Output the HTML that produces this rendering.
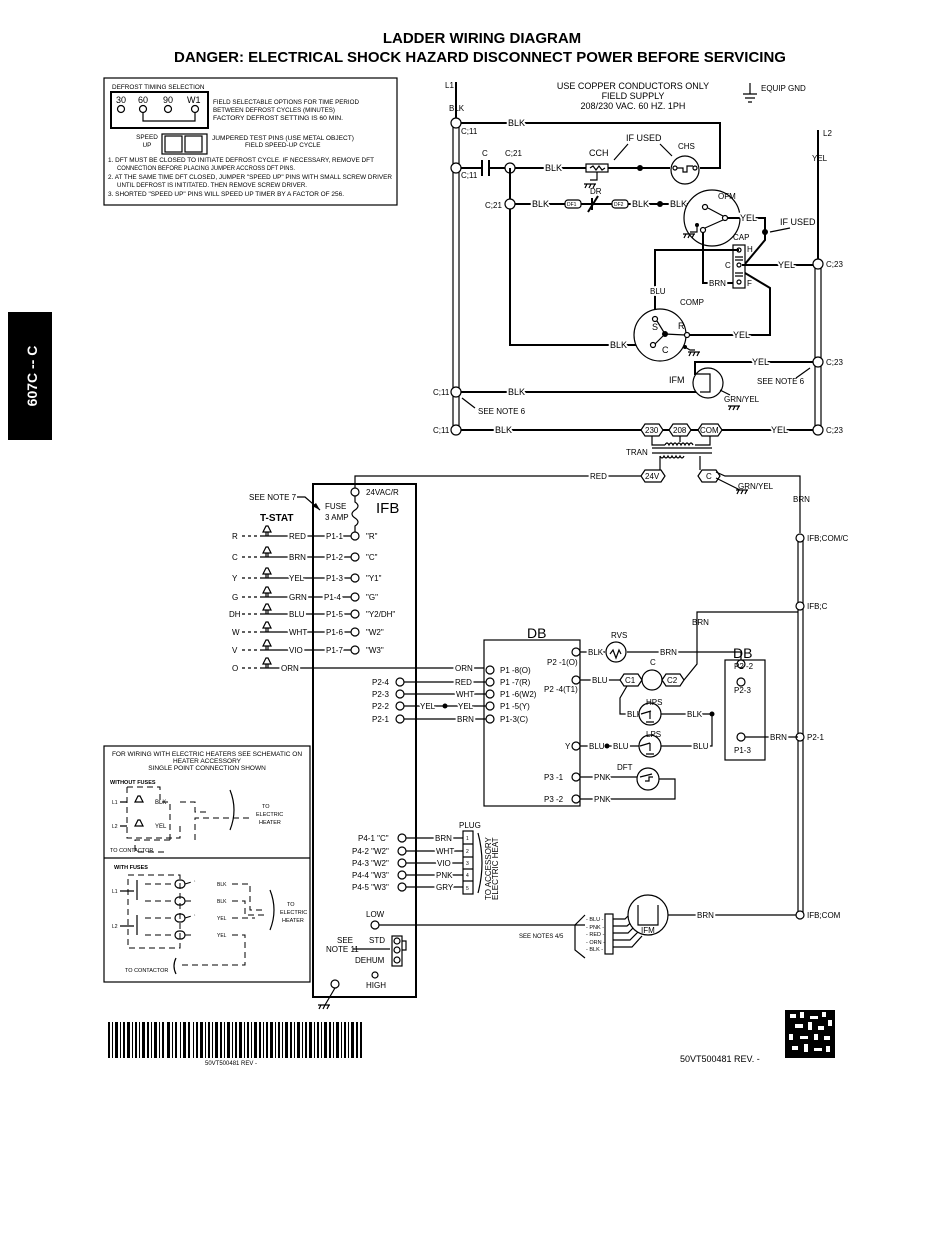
<!DOCTYPE html>
<html><head><meta charset="utf-8"><style>
html,body{margin:0;padding:0;background:#fff}
svg{display:block}
text{font-family:"Liberation Sans",sans-serif;fill:#000}
.s{font-size:8px}
.m{font-size:9px}
.n{font-size:6.4px}
.w{paint-order:stroke;stroke:#fff;stroke-width:4px;stroke-linejoin:round}
.k{stroke:#000;fill:none;stroke-width:1.2}
.b{stroke:#000;fill:none;stroke-width:2}
.c{stroke:#000;fill:#fff;stroke-width:1.2}
.d{stroke:#000;fill:none;stroke-width:1;stroke-dasharray:6,4}
</style></head><body>
<svg width="950" height="1237" viewBox="0 0 950 1237" xmlns="http://www.w3.org/2000/svg">
<text x="482" y="43" text-anchor="middle" style="font-size:15px;font-weight:bold">LADDER WIRING DIAGRAM</text>
<text x="480" y="62" text-anchor="middle" style="font-size:15px;font-weight:bold">DANGER:  ELECTRICAL SHOCK HAZARD DISCONNECT POWER BEFORE SERVICING</text>
<rect x="8" y="312" width="44" height="128" fill="#000"/>
<text transform="translate(37,376) rotate(-90)" text-anchor="middle" style="font-size:14px;font-weight:bold;fill:#fff">607C -- C</text>

<rect x="104" y="78" width="293" height="127" class="k"/>
<text x="112" y="89" class="n">DEFROST TIMING SELECTION</text>
<rect x="111" y="92" width="97" height="36" fill="none" stroke="#000" stroke-width="2"/>
<text x="116" y="103" class="m">30</text><text x="138" y="103" class="m">60</text><text x="163" y="103" class="m">90</text><text x="187" y="103" class="m">W1</text>
<circle cx="121" cy="109" r="3.5" class="c"/><circle cx="143" cy="109" r="3.5" class="c"/><circle cx="168" cy="109" r="3.5" class="c"/><circle cx="195" cy="109" r="3.5" class="c"/>
<path d="M143 113 V121 H195 V113" class="k"/>
<text x="213" y="104" class="n" textLength="146" lengthAdjust="spacingAndGlyphs">FIELD SELECTABLE OPTIONS FOR TIME PERIOD</text>
<text x="213" y="112" class="n" textLength="122" lengthAdjust="spacingAndGlyphs">BETWEEN DEFROST CYCLES (MINUTES)</text>
<text x="213" y="120" class="n" textLength="130" lengthAdjust="spacingAndGlyphs">FACTORY DEFROST SETTING IS 60 MIN.</text>
<text x="147" y="139" class="n" text-anchor="middle">SPEED</text><text x="147" y="147" class="n" text-anchor="middle">UP</text>
<rect x="162" y="134" width="45" height="20" class="k"/><rect x="165" y="136" width="17" height="16" class="k"/><rect x="185" y="136" width="17" height="16" class="k"/>
<text x="212" y="140" class="n" textLength="142" lengthAdjust="spacingAndGlyphs">JUMPERED TEST PINS (USE METAL OBJECT)</text>
<text x="245" y="147" class="n">FIELD SPEED-UP CYCLE</text>
<text x="108" y="162" class="n" textLength="266" lengthAdjust="spacingAndGlyphs">1.  DFT MUST BE CLOSED TO INITIATE DEFROST CYCLE. IF NECESSARY, REMOVE DFT</text>
<text x="117" y="170" class="n" textLength="178" lengthAdjust="spacingAndGlyphs">CONNECTION BEFORE PLACING JUMPER ACCROSS DFT PINS.</text>
<text x="108" y="179" class="n" textLength="284" lengthAdjust="spacingAndGlyphs">2.  AT THE SAME TIME DFT CLOSED, JUMPER "SPEED UP" PINS WITH SMALL SCREW DRIVER</text>
<text x="117" y="187" class="n" textLength="190" lengthAdjust="spacingAndGlyphs">UNTIL DEFROST IS  INITITATED.  THEN REMOVE SCREW DRIVER.</text>
<text x="108" y="196" class="n" textLength="236" lengthAdjust="spacingAndGlyphs">3.  SHORTED "SPEED UP" PINS WILL SPEED UP TIMER BY A FACTOR OF 256.</text>

<text x="445" y="88" class="s">L1</text>
<text x="449" y="111" class="s">BLK</text>
<text x="633" y="89" class="m" text-anchor="middle">USE COPPER CONDUCTORS ONLY</text>
<text x="633" y="99" class="m" text-anchor="middle">FIELD SUPPLY</text>
<text x="633" y="109" class="m" text-anchor="middle">208/230 VAC. 60 HZ. 1PH</text>
<path d="M750 83 V94 M743 94 H757 M745 98 H755 M748 102 H752" class="k"/>
<text x="761" y="91" class="s">EQUIP GND</text>
<text x="823" y="136" class="s">L2</text>
<text x="812" y="161" class="s">YEL</text>

<path d="M456 82 V123" class="b"/>
<path d="M453 123 V430 M459 123 V430" class="k"/>
<path d="M818 130 V264" class="b"/>
<path d="M815 264 V430 M821 264 V430" class="k"/>

<path d="M456 123 H720 V168 H700" class="b"/>
<text x="508" y="126" class="m w">BLK</text>
<circle cx="456" cy="123" r="5" class="c"/><text x="461" y="134" class="s">C;11</text>
<path d="M456 168 H482 M489 168 H510 H588 M606 168 H670" class="b"/>
<path d="M482 160 V176 M489 160 V176" class="b"/>
<text x="482" y="156" class="s">C</text><text x="505" y="156" class="s">C;21</text>
<circle cx="456" cy="168" r="5" class="c"/><text x="461" y="178" class="s">C;11</text>
<circle cx="510" cy="168" r="5" class="c"/>
<text x="545" y="171" class="m w">BLK</text>
<rect x="586" y="164" width="22" height="8" class="c"/><path d="M590 168 l3-2 3 4 3-4 3 4 3-2" class="k"/>
<text x="589" y="156" class="m">CCH</text>
<path d="M597 172 V180 H590 M584 184 H596 M587 184 l-2 4 M591 184 l-2 4 M595 184 l-2 4" class="k"/>
<circle cx="640" cy="168" r="3" fill="#000"/>
<text x="626" y="141" class="m">IF USED</text>
<path d="M628 144 L614 160 M660 144 L672 156" class="k"/>
<circle cx="685" cy="170" r="14" class="c"/><circle cx="675" cy="168" r="2" class="c"/><circle cx="695" cy="168" r="2" class="c"/>
<path d="M677 168 H683 V172 H687 V166 H693" class="k"/>
<text x="678" y="149" class="s">CHS</text>
<path d="M510 168 V345 H655" class="b"/>
<circle cx="510" cy="204" r="5" class="c"/><text x="485" y="208" class="s">C;21</text>
<path d="M515 204 H565 M576 204 H614 M626 204 H695" class="b"/>
<text x="532" y="207" class="m w">BLK</text>
<rect x="565" y="200" width="16" height="8" rx="3" class="c"/><text x="567" y="206" style="font-size:5px">DF1</text>
<path d="M588 212 L598 196 M592 198 V210" class="b"/>
<text x="590" y="194" class="s">DR</text>
<rect x="612" y="200" width="16" height="8" rx="3" class="c"/><text x="614" y="206" style="font-size:5px">DF2</text>
<text x="632" y="207" class="m w">BLK</text>
<circle cx="660" cy="204" r="3" fill="#000"/>
<text x="670" y="207" class="m w">BLK</text>
<circle cx="712" cy="218" r="28" class="c"/>
<text x="718" y="199" class="s">OFM</text>
<circle cx="705" cy="207" r="2.5" class="c"/><circle cx="725" cy="218" r="2.5" class="c"/><circle cx="703" cy="230" r="2.5" class="c"/>
<path d="M708 208 l15 8 M705 228 l18 -8" class="k"/>
<circle cx="697" cy="225" r="2" fill="#000"/><path d="M697 225 V232 H690 M683 234 H695 M686 234 l-2 4 M690 234 l-2 4 M694 234 l-2 4" class="k"/>
<path d="M728 218 H765 V240 L740 270 L770 288 V335 H680" class="b"/>
<text x="740" y="221" class="m w">YEL</text>
<circle cx="765" cy="232" r="3" fill="#000"/>
<text x="780" y="225" class="m">IF USED</text><path d="M790 228 L770 232" class="k"/>
<path d="M703 233 V283 H733" class="b"/>
<text x="709" y="286" class="s w">BRN</text>
<rect x="733" y="245" width="12" height="43" class="c"/>
<text x="733" y="240" class="s">CAP</text>
<circle cx="739" cy="250" r="2" class="c"/><circle cx="739" cy="265" r="2" class="c"/><circle cx="739" cy="282" r="2" class="c"/>
<text x="747" y="252" class="s">H</text><text x="725" y="268" class="s">C</text><text x="747" y="286" class="s">F</text>
<path d="M735 257 H743 M735 260 H743 M735 273 H743 M735 276 H743" class="k"/>
<path d="M739 250 H655 V345" class="b"/>
<path d="M742 265 H815" class="b"/>
<text x="778" y="268" class="m w">YEL</text>
<text x="650" y="294" class="s w">BLU</text>
<circle cx="818" cy="264" r="5" class="c"/><text x="826" y="267" class="s">C;23</text>
<circle cx="660" cy="335" r="26" class="c"/>
<text x="680" y="305" class="s">COMP</text>
<text x="652" y="330" class="m">S</text><text x="678" y="329" class="m">R</text><text x="662" y="353" class="m">C</text>
<circle cx="665" cy="334" r="3" fill="#000"/>
<circle cx="687" cy="335" r="2.5" class="c"/><circle cx="655" cy="319" r="2.5" class="c"/><circle cx="653" cy="345" r="2.5" class="c"/>
<path d="M657 321 l8 13 l20 1 M665 334 l-10 10" class="k"/>
<circle cx="685" cy="347" r="2" fill="#000"/><path d="M685 347 l5 3 H695 M688 352 H700 M691 352 l-2 4 M695 352 l-2 4 M699 352 l-2 4" class="k"/>
<text x="610" y="348" class="m w">BLK</text>
<text x="733" y="338" class="m w">YEL</text>
<path d="M695 375 V362 H815" class="b"/>
<text x="752" y="365" class="m w">YEL</text>
<circle cx="818" cy="362" r="5" class="c"/><text x="826" y="365" class="s">C;23</text>
<text x="757" y="384" class="s">SEE NOTE 6</text><path d="M796 378 L810 368" class="k"/>
<path d="M456 392 H700" class="b"/>
<text x="508" y="395" class="m w">BLK</text>
<circle cx="708" cy="383" r="15" class="c"/>
<path d="M695 374 H710 V392 H700" class="k"/>
<text x="669" y="383" class="m">IFM</text>
<path d="M720 390 L730 395" class="k"/><text x="724" y="402" class="s">GRN/YEL</text>
<path d="M728 406 H740 M731 406 l-2 4 M735 406 l-2 4 M739 406 l-2 4" class="k"/>
<circle cx="456" cy="392" r="5" class="c"/><text x="433" y="395" class="s">C;11</text>
<text x="478" y="414" class="s">SEE NOTE 6</text><path d="M475 408 L462 398" class="k"/>
<path d="M456 430 H815" class="b"/>
<text x="495" y="433" class="m w">BLK</text>
<text x="771" y="433" class="m w">YEL</text>
<circle cx="456" cy="430" r="5" class="c"/><text x="433" y="433" class="s">C;11</text>
<circle cx="818" cy="430" r="5" class="c"/><text x="826" y="433" class="s">C;23</text>
<g class="c"><polygon points="641,430 645,424 659,424 663,430 659,436 645,436"/><polygon points="669,430 673,424 687,424 691,430 687,436 673,436"/><polygon points="698,430 702,424 718,424 722,430 718,436 702,436"/></g>
<text x="645" y="433" class="s">230</text><text x="673" y="433" class="s">208</text><text x="700" y="433" class="s">COM</text>
<path d="M652 436 V445 H665 M680 436 V442 M710 436 V445 H695" class="k"/>
<path d="M652 448 H712 M652 453 H712" class="k"/>
<path d="M665 445 q2-4 4 0 q2-4 4 0 q2-4 4 0 q2-4 4 0 q2-4 4 0 q2-4 4 0 q2-4 4 0" class="k"/>
<path d="M660 456 q2 4 4 0 q2 4 4 0 q2 4 4 0 q2 4 4 0 q2 4 4 0 q2 4 4 0" class="k"/>
<text x="626" y="455" class="s">TRAN</text>
<path d="M660 456 V470 M700 456 V470" class="k"/>
<path d="M355 488 V476 H641" class="k"/>
<text x="590" y="479" class="s w">RED</text>
<polygon points="641,476 645,470 661,470 665,476 661,482 645,482" class="c"/><text x="645" y="479" class="s">24V</text>
<polygon points="698,476 702,470 716,470 720,476 716,482 702,482" class="c"/><text x="706" y="479" class="s">C</text>
<path d="M716 478 L740 490 M736 490 H748 M739 490 l-2 4 M743 490 l-2 4 M747 490 l-2 4" class="k"/>
<text x="738" y="489" class="s">GRN/YEL</text>
<path d="M716 472 L725 476 H800 V533" class="k"/>
<text x="793" y="502" class="s">BRN</text>
<path d="M798 538 V915 M803 538 V915" class="k"/>
<circle cx="800" cy="538" r="4" class="c"/><text x="807" y="541" class="s">IFB;COM/C</text>
<circle cx="800" cy="606" r="4" class="c"/><text x="807" y="609" class="s">IFB;C</text>
<circle cx="800" cy="737" r="4" class="c"/><text x="807" y="740" class="s">P2-1</text>
<circle cx="800" cy="915" r="4" class="c"/><text x="807" y="918" class="s">IFB;COM</text>

<rect x="313" y="484" width="103" height="513" fill="none" stroke="#000" stroke-width="2"/>
<circle cx="355" cy="492" r="4" class="c"/><text x="366" y="495" class="s">24VAC/R</text>
<text x="376" y="513" style="font-size:15px">IFB</text>
<text x="325" y="509" class="s">FUSE</text><text x="325" y="520" class="s">3 AMP</text>
<path d="M355 496 V502 q6 4 0 8 q-6 4 0 8 q6 4 0 8 V532" class="k"/>
<text x="249" y="500" class="s">SEE NOTE 7</text><path d="M297 497 H305 L320 510" class="k"/>
<polygon points="320,510 312,506 316,503" fill="#000"/>
<text x="260" y="521" style="font-size:10px;font-weight:bold">T-STAT</text>
<g class="s">
<text x="232" y="539">R</text><text x="232" y="560">C</text><text x="232" y="581">Y</text><text x="232" y="600">G</text><text x="229" y="617">DH</text><text x="232" y="635">W</text><text x="232" y="653">V</text><text x="232" y="671">O</text>
</g>
<path d="M242 536 H262 M242 557 H262 M242 578 H262 M242 597 H262 M242 614 H262 M242 632 H262 M242 650 H262 M242 668 H262" class="k" stroke-dasharray="3,3"/>
<g class="k">
<path d="M262 536 H290 M262 557 H290 M262 578 H290 M262 597 H290 M262 614 H290 M262 632 H290 M262 650 H290 M262 668 H484"/>
<path d="M263 532 l3-6 h2 l3 6 z M266 532 v4 M268 532 v4"/>
<path d="M263 553 l3-6 h2 l3 6 z M266 553 v4 M268 553 v4"/>
<path d="M263 574 l3-6 h2 l3 6 z M266 574 v4 M268 574 v4"/>
<path d="M263 593 l3-6 h2 l3 6 z M266 593 v4 M268 593 v4"/>
<path d="M263 610 l3-6 h2 l3 6 z M266 610 v4 M268 610 v4"/>
<path d="M263 628 l3-6 h2 l3 6 z M266 628 v4 M268 628 v4"/>
<path d="M263 646 l3-6 h2 l3 6 z M266 646 v4 M268 646 v4"/>
<path d="M263 664 l3-6 h2 l3 6 z M266 664 v4 M268 664 v4"/>
<path d="M290 536 H351 M290 557 H351 M290 578 H351 M290 597 H351 M290 614 H351 M290 632 H351 M290 650 H351"/>
</g>
<g class="s w">
<text x="289" y="539">RED</text><text x="289" y="560">BRN</text><text x="289" y="581">YEL</text><text x="289" y="600">GRN</text><text x="289" y="617">BLU</text><text x="289" y="635">WHT</text><text x="289" y="653">VIO</text><text x="281" y="671">ORN</text>
<text x="326" y="539">P1-1</text><text x="326" y="560">P1-2</text><text x="326" y="581">P1-3</text><text x="324" y="600">P1-4</text><text x="326" y="617">P1-5</text><text x="326" y="635">P1-6</text><text x="326" y="653">P1-7</text>
</g>
<g class="c"><circle cx="355" cy="536" r="4"/><circle cx="355" cy="557" r="4"/><circle cx="355" cy="578" r="4"/><circle cx="355" cy="597" r="4"/><circle cx="355" cy="614" r="4"/><circle cx="355" cy="632" r="4"/><circle cx="355" cy="650" r="4"/></g>
<g class="s"><text x="366" y="539">"R"</text><text x="366" y="560">"C"</text><text x="366" y="581">"Y1"</text><text x="366" y="600">"G"</text><text x="366" y="617">"Y2/DH"</text><text x="366" y="635">"W2"</text><text x="366" y="653">"W3"</text></g>
<g class="k"><path d="M404 682 H486 M404 694 H486 M404 706 H486 M404 719 H486"/></g>
<g class="s"><text x="372" y="685">P2-4</text><text x="372" y="697">P2-3</text><text x="372" y="709">P2-2</text><text x="372" y="722">P2-1</text></g>
<g class="c"><circle cx="400" cy="682" r="4"/><circle cx="400" cy="694" r="4"/><circle cx="400" cy="706" r="4"/><circle cx="400" cy="719" r="4"/></g>
<g class="s w"><text x="455" y="671">ORN</text><text x="455" y="685">RED</text><text x="456" y="697">WHT</text><text x="420" y="709">YEL</text><text x="458" y="709">YEL</text><text x="457" y="722">BRN</text></g>
<circle cx="445" cy="706" r="2.5" fill="#000"/>
<rect x="484" y="640" width="96" height="166" class="k"/>
<text x="527" y="638" style="font-size:14px">DB</text>
<g class="c"><circle cx="490" cy="670" r="4"/><circle cx="490" cy="682" r="4"/><circle cx="490" cy="694" r="4"/><circle cx="490" cy="706" r="4"/><circle cx="490" cy="719" r="4"/></g>
<g class="s"><text x="500" y="673">P1 -8(O)</text><text x="500" y="685">P1 -7(R)</text><text x="500" y="697">P1 -6(W2)</text><text x="500" y="709">P1 -5(Y)</text><text x="500" y="722">P1-3(C)</text></g>
<g class="c"><circle cx="576" cy="652" r="4"/><circle cx="576" cy="680" r="4"/><circle cx="576" cy="746" r="4"/><circle cx="576" cy="777" r="4"/><circle cx="576" cy="799" r="4"/></g>
<g class="s"><text x="547" y="665">P2 -1(O)</text><text x="544" y="692">P2 -4(T1)</text><text x="565" y="749">Y</text><text x="544" y="780">P3 -1</text><text x="544" y="802">P3 -2</text></g>
<path d="M580 652 H605 M627 652 H735 M580 680 H620 M580 746 H640 M580 777 H640 M580 799 H675 V779 H656" class="k"/>
<g class="s w"><text x="588" y="655">BLK</text><text x="660" y="655">BRN</text><text x="592" y="683">BLU</text><text x="589" y="749">BLU</text><text x="613" y="749">BLU</text><text x="594" y="780">PNK</text><text x="594" y="802">PNK</text></g>
<circle cx="616" cy="652" r="10" class="c"/><path d="M610 654 l3-4 3 8 3-8 2 4" class="k"/>
<text x="611" y="638" class="s">RVS</text>
<polygon points="620,680 624,674 638,674 642,680 638,686 624,686" class="c"/><text x="625" y="683" class="s">C1</text>
<circle cx="652" cy="680" r="10" class="c"/><text x="650" y="665" class="s">C</text>
<polygon points="662,680 666,674 680,674 684,680 680,686 666,686" class="c"/><text x="667" y="683" class="s">C2</text>
<path d="M684 680 L697 664 V612 H798" class="k"/>
<text x="692" y="625" class="s">BRN</text>
<path d="M627 686 L620 698 V714 H640" class="k" stroke="#555"/>
<text x="627" y="717" class="s w">BLK</text>
<circle cx="650" cy="714" r="11" class="c"/><text x="646" y="705" class="s">HPS</text>
<path d="M641 714 l10-3 M650 711 v8 M646 722 h8 M661 714 H712" class="k"/>
<text x="687" y="717" class="s w">BLK</text>
<circle cx="712" cy="714" r="2.5" fill="#000"/><path d="M712 714 V746 H661" class="k"/>
<circle cx="650" cy="746" r="11" class="c"/><text x="646" y="737" class="s">LPS</text>
<path d="M640 746 l10-3 M650 743 v8 M646 754 h8" class="k"/>
<text x="693" y="749" class="s w">BLU</text>
<circle cx="607" cy="746" r="2.5" fill="#000"/>
<circle cx="648" cy="779" r="11" class="c"/><text x="617" y="770" class="s">DFT</text>
<path d="M640 777 l12-3 M645 781 h4 v-4 h4" class="k"/>
<rect x="725" y="660" width="40" height="100" class="k"/>
<text x="733" y="658" style="font-size:14px">DB</text>
<g class="c"><circle cx="741" cy="664" r="4"/><circle cx="741" cy="682" r="4"/><circle cx="741" cy="737" r="4"/></g>
<path d="M735 652 H741 V660" class="k"/>
<g class="s"><text x="734" y="669">P2 -2</text><text x="734" y="693">P2-3</text><text x="734" y="753">P1-3</text></g>
<path d="M745 737 H798" class="k"/><text x="770" y="740" class="s w">BRN</text>

<g class="k"><path d="M406 838 H463 M406 851 H463 M406 863 H463 M406 875 H463 M406 887 H463"/></g>
<g class="s"><text x="358" y="841">P4-1 "C"</text><text x="352" y="854">P4-2 "W2"</text><text x="352" y="866">P4-3 "W2"</text><text x="352" y="878">P4-4 "W3"</text><text x="352" y="890">P4-5 "W3"</text></g>
<g class="c"><circle cx="402" cy="838" r="4"/><circle cx="402" cy="851" r="4"/><circle cx="402" cy="863" r="4"/><circle cx="402" cy="875" r="4"/><circle cx="402" cy="887" r="4"/></g>
<g class="s w"><text x="435" y="841">BRN</text><text x="436" y="854">WHT</text><text x="437" y="866">VIO</text><text x="436" y="878">PNK</text><text x="436" y="890">GRY</text></g>
<rect x="463" y="831" width="10" height="63" class="k"/>
<path d="M463 844 h10 M463 857 h10 M463 869 h10 M463 881 h10" class="k"/>
<g style="font-size:5px"><text x="466" y="840">1</text><text x="466" y="853">2</text><text x="466" y="865">3</text><text x="466" y="877">4</text><text x="466" y="890">5</text></g>
<text x="459" y="828" class="s">PLUG</text>
<path d="M478 833 q8 30 0 60" class="k"/>
<text transform="translate(491,900) rotate(-90)" class="s">TO ACCESSORY</text>
<text transform="translate(498,900) rotate(-90)" class="s">ELECTRIC HEAT</text>
<text x="366" y="917" class="s">LOW</text>
<circle cx="375" cy="925" r="4" class="c"/>
<path d="M379 925 H585" class="k"/>
<text x="337" y="943" class="s">SEE</text><text x="326" y="952" class="s">NOTE 11</text>
<path d="M353 949 H390" class="k"/>
<text x="369" y="943" class="s">STD</text><text x="355" y="963" class="s">DEHUM</text>
<rect x="392" y="936" width="10" height="30" class="k"/>
<circle cx="397" cy="941" r="3" class="c"/><circle cx="397" cy="950" r="3" class="c"/><circle cx="397" cy="960" r="3" class="c"/>
<path d="M402 941 H406 V950 H402" class="k"/>
<circle cx="375" cy="975" r="3" class="c"/><text x="366" y="988" class="s">HIGH</text>
<circle cx="335" cy="984" r="4" class="c"/>
<path d="M335 988 L325 1005 M318 1005 H330 M321 1005 l-2 4 M325 1005 l-2 4 M329 1005 l-2 4" class="k"/>
<path d="M585 915 L575 925 V950 L585 958" class="k"/>
<text x="519" y="938" style="font-size:6px">SEE NOTES 4/5</text>
<g style="font-size:5.5px" class="w"><text x="586" y="921">- BLU -</text><text x="586" y="929">- PNK -</text><text x="586" y="936">- RED -</text><text x="586" y="944">- ORN -</text><text x="586" y="951">- BLK -</text></g>
<rect x="605" y="914" width="8" height="40" class="k"/>
<path d="M613 919 H625 L632 912 M613 926 H627 L634 920 M613 933 H628 L636 925 M613 940 H630 L638 932 M613 947 H632 L642 936" class="k"/>
<circle cx="648" cy="915" r="20" class="c"/>
<path d="M638 905 V925 H658 V905" class="k"/>
<text x="641" y="933" class="s">IFM</text>
<path d="M668 915 H796" class="k"/>
<text x="697" y="918" class="s w">BRN</text>

<rect x="104" y="746" width="206" height="236" class="k"/>
<path d="M104 858 H310" class="k"/>
<text x="207" y="756" style="font-size:6.5px" text-anchor="middle">FOR WIRING WITH ELECTRIC HEATERS SEE SCHEMATIC ON</text>
<text x="207" y="763" style="font-size:6.5px" text-anchor="middle">HEATER ACCESSORY</text>
<text x="207" y="770" style="font-size:6.5px" text-anchor="middle">SINGLE POINT CONNECTION SHOWN</text>
<text x="110" y="784" style="font-size:5.5px;font-weight:bold">WITHOUT FUSES</text>
<text x="112" y="804" style="font-size:5px">L1</text><text x="112" y="828" style="font-size:5px">L2</text>
<text x="155" y="804" style="font-size:6px">BLK</text><text x="155" y="828" style="font-size:6px">YEL</text>
<path d="M120 802 H127 M120 826 H127 M135 802 l3-6 h2 l3 6 z M135 826 l3-6 h2 l3 6 z" class="k"/>
<path d="M127 787 H160 V802 H170 V840 M127 787 V838 H180 V826 M180 802 H195 V812 H210 M170 840 H135 V852 H165 M195 840 V818 H250" class="d"/>
<path d="M230 790 q8 20 0 40" class="k"/>
<text x="262" y="808" style="font-size:5.5px">TO</text><text x="256" y="816" style="font-size:5.5px">ELECTRIC</text><text x="259" y="824" style="font-size:5.5px">HEATER</text>
<text x="110" y="852" style="font-size:5.5px">TO CONTACTOR</text>
<text x="114" y="869" style="font-size:5.5px;font-weight:bold">WITH FUSES</text>
<text x="112" y="893" style="font-size:5px">L1</text><text x="112" y="928" style="font-size:5px">L2</text>
<path d="M128 875 H180 V948 H128 Z" class="d"/>
<path d="M120 891 H134 M120 926 H134 M137 880 v20 M137 915 v20" class="k"/>
<g class="k"><rect x="175" y="880" width="10" height="8" rx="4"/><rect x="175" y="897" width="10" height="8" rx="4"/><rect x="175" y="914" width="10" height="8" rx="4"/><rect x="175" y="931" width="10" height="8" rx="4"/></g>
<path d="M145 884 H175 M145 901 H175 M145 918 H175 M145 935 H175 M185 884 l10-3 M185 901 H195 M185 918 l10-3 M185 935 H195" class="d"/>
<g style="font-size:5px"><text x="217" y="886">BLK</text><text x="217" y="903">BLK</text><text x="217" y="920">YEL</text><text x="217" y="937">YEL</text></g>
<path d="M232 884 H250 V910 H265 M232 901 H245 V915 H265 M232 918 H255 M232 935 H245 V965 H178" class="d"/>
<path d="M270 890 q8 20 0 40" class="k"/>
<text x="287" y="906" style="font-size:5.5px">TO</text><text x="280" y="914" style="font-size:5.5px">ELECTRIC</text><text x="282" y="922" style="font-size:5.5px">HEATER</text>
<text x="125" y="972" style="font-size:5.5px">TO CONTACTOR</text>
<path d="M176 958 q-4 8 0 16" class="k"/>

<g fill="#000">
<rect x="108" y="1022" width="2" height="36"/><rect x="112" y="1022" width="1" height="36"/><rect x="115" y="1022" width="3" height="36"/><rect x="120" y="1022" width="1" height="36"/><rect x="123" y="1022" width="2" height="36"/><rect x="127" y="1022" width="3" height="36"/><rect x="132" y="1022" width="1" height="36"/><rect x="135" y="1022" width="2" height="36"/><rect x="139" y="1022" width="1" height="36"/><rect x="142" y="1022" width="3" height="36"/><rect x="147" y="1022" width="2" height="36"/><rect x="151" y="1022" width="1" height="36"/><rect x="154" y="1022" width="3" height="36"/><rect x="159" y="1022" width="1" height="36"/><rect x="162" y="1022" width="2" height="36"/><rect x="167" y="1022" width="3" height="36"/><rect x="172" y="1022" width="1" height="36"/><rect x="175" y="1022" width="2" height="36"/><rect x="180" y="1022" width="1" height="36"/><rect x="183" y="1022" width="3" height="36"/><rect x="188" y="1022" width="2" height="36"/><rect x="193" y="1022" width="1" height="36"/><rect x="196" y="1022" width="2" height="36"/><rect x="200" y="1022" width="3" height="36"/><rect x="205" y="1022" width="1" height="36"/><rect x="208" y="1022" width="2" height="36"/><rect x="212" y="1022" width="1" height="36"/><rect x="215" y="1022" width="3" height="36"/><rect x="220" y="1022" width="2" height="36"/><rect x="224" y="1022" width="1" height="36"/><rect x="227" y="1022" width="3" height="36"/><rect x="232" y="1022" width="1" height="36"/><rect x="235" y="1022" width="2" height="36"/><rect x="239" y="1022" width="3" height="36"/><rect x="244" y="1022" width="1" height="36"/><rect x="247" y="1022" width="2" height="36"/><rect x="251" y="1022" width="1" height="36"/><rect x="254" y="1022" width="3" height="36"/><rect x="259" y="1022" width="2" height="36"/><rect x="263" y="1022" width="1" height="36"/><rect x="266" y="1022" width="2" height="36"/><rect x="270" y="1022" width="3" height="36"/><rect x="275" y="1022" width="1" height="36"/><rect x="278" y="1022" width="2" height="36"/><rect x="282" y="1022" width="1" height="36"/><rect x="285" y="1022" width="3" height="36"/><rect x="290" y="1022" width="2" height="36"/><rect x="294" y="1022" width="1" height="36"/><rect x="297" y="1022" width="3" height="36"/><rect x="302" y="1022" width="1" height="36"/><rect x="305" y="1022" width="2" height="36"/><rect x="309" y="1022" width="3" height="36"/><rect x="314" y="1022" width="1" height="36"/><rect x="317" y="1022" width="2" height="36"/><rect x="321" y="1022" width="1" height="36"/><rect x="324" y="1022" width="3" height="36"/><rect x="329" y="1022" width="2" height="36"/><rect x="333" y="1022" width="1" height="36"/><rect x="336" y="1022" width="3" height="36"/><rect x="341" y="1022" width="1" height="36"/><rect x="344" y="1022" width="2" height="36"/><rect x="348" y="1022" width="1" height="36"/><rect x="351" y="1022" width="3" height="36"/><rect x="356" y="1022" width="2" height="36"/><rect x="360" y="1022" width="2" height="36"/>
</g>
<text x="205" y="1065" style="font-size:6px;paint-order:stroke;stroke:#fff;stroke-width:3px">50VT500481 REV -</text>
<rect x="785" y="1010" width="50" height="48" fill="#000"/>
<g fill="#fff">
<rect x="790" y="1014" width="6" height="4"/><rect x="800" y="1012" width="4" height="6"/><rect x="810" y="1016" width="8" height="3"/><rect x="822" y="1012" width="4" height="5"/><rect x="795" y="1024" width="8" height="4"/><rect x="808" y="1022" width="4" height="8"/><rect x="818" y="1026" width="6" height="4"/><rect x="828" y="1020" width="4" height="6"/><rect x="789" y="1034" width="4" height="6"/><rect x="800" y="1036" width="8" height="3"/><rect x="814" y="1034" width="4" height="6"/><rect x="824" y="1036" width="6" height="4"/><rect x="792" y="1046" width="6" height="4"/><rect x="804" y="1044" width="4" height="8"/><rect x="814" y="1048" width="8" height="3"/><rect x="826" y="1046" width="4" height="6"/>
</g>
<text x="680" y="1062" class="m">50VT500481  REV. -</text>
</svg>
</body></html>
